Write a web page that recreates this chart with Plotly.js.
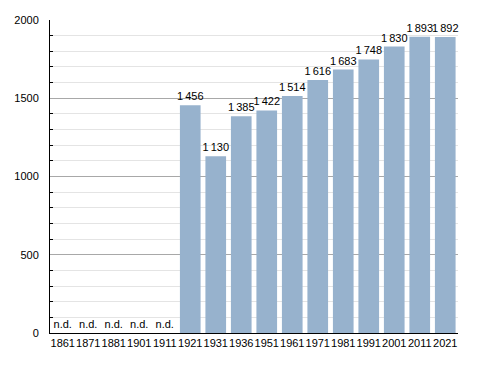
<!DOCTYPE html>
<html>
<head>
<meta charset="utf-8">
<script src="https://cdn.plot.ly/plotly-3.0.1.min.js"></script>
<style>html,body{margin:0;padding:0;background:#fff;}#chart{width:488px;height:373px;}</style>
</head>
<body>
<div id="chart"></div>
<script>
const years = ['1861','1871','1881','1901','1911','1921','1931','1936','1951','1961','1971','1981','1991','2001','2011','2021'];
const population = [null, null, null, null, null, 1456, 1130, 1385, 1422, 1514, 1616, 1683, 1748, 1830, 1893, 1892];
const missingLabel = 'n.d.';

function fmt(v) {
  const s = String(v);
  return s.length > 3 ? s.slice(0, s.length - 3) + '\u2009' + s.slice(-3) : s;
}

const trace = {
  type: 'bar',
  x: years,
  y: population.map(v => v == null ? 0 : v),
  text: population.map(v => v == null ? missingLabel : fmt(v)),
  textposition: 'outside',
  constraintext: 'none',
  cliponaxis: false,
  textfont: {family: 'Liberation Sans, Arial, sans-serif', size: 11, color: '#000'},
  marker: {color: '#97b2cd', line: {width: 0}},
  hoverinfo: 'none'
};

const layout = {
  width: 488, height: 373,
  margin: {l: 50, r: 30, t: 20, b: 40},
  paper_bgcolor: '#fff', plot_bgcolor: '#fff',
  font: {family: 'Liberation Sans, Arial, sans-serif', size: 11, color: '#000'},
  showlegend: false,
  bargap: 0.19,
  xaxis: {
    type: 'category',
    showline: true, linecolor: '#000', linewidth: 1,
    showgrid: false, ticks: '', tickangle: 0,
    tickfont: {size: 11, color: '#000'}
  },
  yaxis: {
    range: [0, 2000], dtick: 500, tickformat: 'd',
    showline: true, linecolor: '#000', linewidth: 1,
    showgrid: true, gridcolor: '#a8a8a8', gridwidth: 1,
    zeroline: false, ticks: '', ticklabelstandoff: 8,
    tickfont: {size: 11, color: '#000'},
    minor: {dtick: 100, showgrid: true, gridcolor: '#e4e4e4', gridwidth: 1, ticks: 'inside', ticklen: 3, tickcolor: '#000'}
  }
};

Plotly.newPlot('chart', [trace], layout, {displayModeBar: false, staticPlot: true});
</script>
</body>
</html>
